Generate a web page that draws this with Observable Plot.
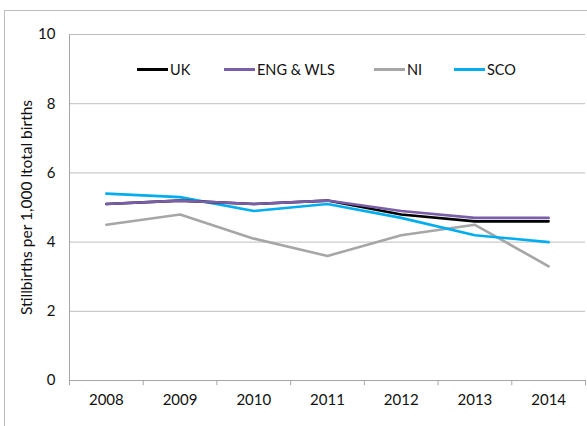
<!DOCTYPE html>
<html><head><meta charset="utf-8">
<script src="https://cdn.jsdelivr.net/npm/d3@7"></script>
<script src="https://cdn.jsdelivr.net/npm/@observablehq/plot@0.6"></script>
<style>
body{margin:0;background:#fff;font-family:Lato,"Open Sans",sans-serif;}
#wrap{position:relative;width:587px;height:426px;overflow:hidden;}
#frame{position:absolute;left:4px;top:10px;width:600px;height:430px;border:1px solid #bdbdbd;box-sizing:border-box;}
#legend{position:absolute;top:61px;left:0;width:587px;height:20px;font-size:14.5px;color:#111;}
.item{position:absolute;display:flex;align-items:center;}
.sw{display:inline-block;width:31px;height:3px;margin-right:2px;}
svg{position:absolute;left:0;top:0;}
</style></head>
<body><div id="wrap"><div id="frame"></div></div>
<script>
const years = [2008, 2009, 2010, 2011, 2012, 2013, 2014];
const seriesNames = ["UK", "ENG & WLS", "NI", "SCO"];
const uk =     [5.1, 5.2, 5.1, 5.2, 4.8, 4.6, 4.6];
const engWls = [5.1, 5.2, 5.1, 5.2, 4.9, 4.7, 4.7];
const ni =     [4.5, 4.8, 4.1, 3.6, 4.2, 4.5, 3.3];
const sco =    [5.4, 5.3, 4.9, 5.1, 4.7, 4.2, 4.0];
const colors = ["#000000", "#7a5ea8", "#a6a6a6", "#00aeef"];
const yTicks = [0, 2, 4, 6, 8, 10];

const valuesBySeries = [uk, engWls, ni, sco];
const order = [2, 3, 0, 1];
const data = [];
order.forEach(si => years.forEach((yr, i) => data.push({series: seriesNames[si], year: yr, value: valuesBySeries[si][i]})));
const bounds = years.map(y => y - 0.5).concat([years[years.length - 1] + 0.5]);

const chart = Plot.plot({
  width: 587, height: 426,
  marginLeft: 69, marginRight: 2, marginTop: 34, marginBottom: 46,
  style: {fontFamily: "Lato, 'Open Sans', sans-serif", fontSize: "15px", color: "#111", background: "transparent"},
  x: {type: "linear", domain: [2007.5, 2014.5], label: null},
  y: {type: "linear", domain: [0, 10], label: null},
  color: {domain: seriesNames, range: colors},
  marks: [
    Plot.ruleY(yTicks.filter(d => d > 0), {stroke: "#bfbfbf", strokeWidth: 1}),
    Plot.ruleY([0], {stroke: "#a6a6a6", strokeWidth: 1}),
    Plot.ruleX([2007.5], {y1: 0, y2: 10, stroke: "#a6a6a6"}),
    Plot.ruleX(bounds, {x: d => d, y1: 0, y2: -0.15, stroke: "#a6a6a6", clip: false}),
    Plot.axisX({ticks: years, tickFormat: d => String(d), tickSize: 0, tickPadding: 14, label: null}),
    Plot.axisY({ticks: yTicks, tickSize: 0, tickPadding: 14, label: null}),
    Plot.text(["Stillbirths per 1,000 ltotal births"], {frameAnchor: "left", textAnchor: "middle", dx: -42, rotate: -90, fontSize: 15.5}),
    Plot.line(data, {x: "year", y: "value", z: "series", stroke: "series", strokeWidth: 2.6, curve: "linear"})
  ]
});
document.getElementById("wrap").appendChild(chart);

const legend = document.createElement("div");
legend.id = "legend";
const lefts = [137, 224, 374, 454];
seriesNames.forEach((s, i) => {
  const it = document.createElement("div");
  it.className = "item";
  it.style.left = lefts[i] + "px";
  it.innerHTML = `<span class="sw" style="background:${colors[i]}"></span><span>${s}</span>`;
  legend.appendChild(it);
});
document.getElementById("wrap").appendChild(legend);
</script></body></html>
